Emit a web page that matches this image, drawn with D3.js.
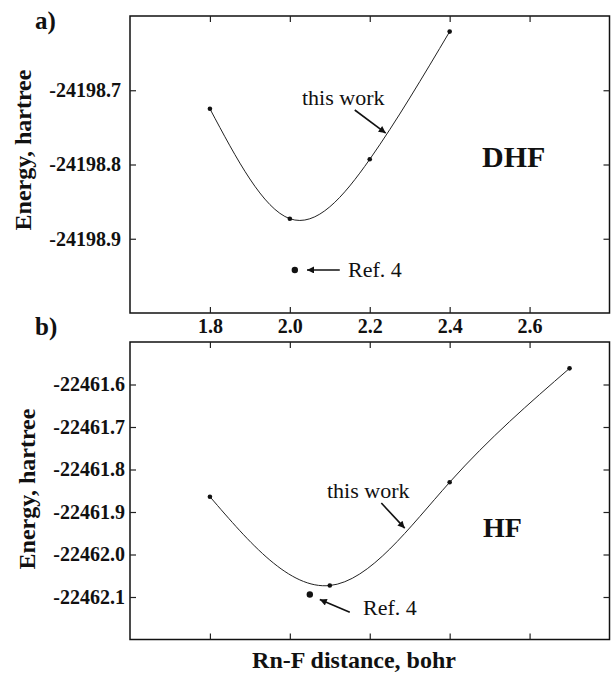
<!DOCTYPE html>
<meta charset="utf-8">
<script src="https://d3js.org/d3.v7.min.js"></script>
<style>
  body { margin: 0; background: #fff; }
  svg text { font-family: "Liberation Serif", "Times New Roman", serif; fill: #111; }
  .tick text { font-weight: bold; font-size: 20px; }
  .tick line { stroke: #222; stroke-width: 1.2; }
</style>
<body>
<div id="chart"></div>
<script>

// Rn-F distance (bohr) and total energy (hartree)
var dhfR = [1.8, 2.0, 2.2, 2.4];
var dhfE = [-24198.725, -24198.873, -24198.793, -24198.621];
var dhfRef = {r: 2.0125, e: -24198.942};

var hfR = [1.8, 2.1, 2.4, 2.7];
var hfE = [-22461.864, -22462.073, -22461.830, -22461.562];
var hfRef = {r: 2.05, e: -22462.094};

var xTicks = [1.8, 2.0, 2.2, 2.4, 2.6];
var dhfTicks = [-24198.7, -24198.8, -24198.9];
var hfTicks = [-22461.6, -22461.7, -22461.8, -22461.9, -22462.0, -22462.1];

var width = 611, height = 673;
var fmt = function(d) { return d.toFixed(1); };   // plain hyphen, point decimal

var svg = d3.select("#chart").append("svg")
    .attr("width", width)
    .attr("height", height);

svg.append("defs").append("marker")
    .attr("id", "arrow")
    .attr("viewBox", "0 0 10 10")
    .attr("refX", 10).attr("refY", 5)
    .attr("markerWidth", 9).attr("markerHeight", 7)
    .attr("markerUnits", "userSpaceOnUse")
    .attr("orient", "auto")
  .append("path")
    .attr("d", "M0,0 L10,5 L0,10 z")
    .attr("fill", "#111");

var x = d3.scaleLinear().domain([1.6, 2.8]).range([130, 609.5]);

function clean(a) {
  a.select(".domain").remove();
  a.attr("font-family", null).attr("font-size", null);
}

function panel(opt) {
  var y = d3.scaleLinear().domain(opt.domain).range(opt.range);
  var g = svg.append("g");
  var top = opt.range[1], bottom = opt.range[0];

  // frame
  g.append("rect")
    .attr("x", 130).attr("y", top)
    .attr("width", 479.5).attr("height", bottom - top)
    .attr("fill", "none").attr("stroke", "#111").attr("stroke-width", 1.5);

  // axes (ticks point inward)
  g.append("g").attr("transform", "translate(130,0)")
    .call(d3.axisLeft(y).tickValues(opt.ticks).tickSize(-6).tickPadding(opt.pad)
      .tickFormat(fmt))
    .call(clean);
  g.append("g").attr("transform", "translate(609.5,0)")
    .call(d3.axisRight(y).tickValues(opt.ticks).tickSize(-6).tickFormat(""))
    .call(clean);
  g.append("g").attr("transform", "translate(0," + top + ")")
    .call(d3.axisTop(x).tickValues(xTicks).tickSize(-6).tickFormat(""))
    .call(clean);
  g.append("g").attr("transform", "translate(0," + bottom + ")")
    .call(d3.axisBottom(x).tickValues(xTicks).tickSize(-6).tickPadding(6)
      .tickFormat(opt.xLabels ? fmt : ""))
    .call(clean);

  // fitted curve
  var pts = opt.r.map(function(r, i) { return [r, opt.e[i]]; });
  var line = d3.line()
      .x(function(d) { return x(d[0]); })
      .y(function(d) { return y(d[1]); })
      .curve(d3.curveNatural);
  g.append("path")
    .attr("d", line(pts))
    .attr("fill", "none").attr("stroke", "#222").attr("stroke-width", 1);

  g.selectAll(".pt").data(pts).enter().append("circle")
    .attr("cx", function(d) { return x(d[0]); })
    .attr("cy", function(d) { return y(d[1]); })
    .attr("r", 2.3).attr("fill", "#111");

  g.append("circle")
    .attr("cx", x(opt.ref.r)).attr("cy", y(opt.ref.e))
    .attr("r", 3.2).attr("fill", "#111");

  // annotations
  opt.arrows.forEach(function(a) {
    g.append("line")
      .attr("x1", x(a[0])).attr("y1", y(a[1]))
      .attr("x2", x(a[2])).attr("y2", y(a[3]))
      .attr("stroke", "#111").attr("stroke-width", 1.6)
      .attr("marker-end", "url(#arrow)");
  });
  opt.texts.forEach(function(t) {
    g.append("text")
      .attr("x", t.x).attr("y", t.y)
      .style("font-size", t.size + "px")
      .style("font-weight", t.bold ? "bold" : "normal")
      .text(t.s);
  });

  // y label
  g.append("text")
    .attr("transform", "translate(" + opt.labX + "," + opt.labY + ") rotate(-90)")
    .attr("text-anchor", "middle")
    .style("font-size", "24px").style("font-weight", "bold")
    .text("Energy, hartree");
}

panel({
  domain: [-24199.0, -24198.6], range: [313, 16], ticks: dhfTicks, pad: 9,
  r: dhfR, e: dhfE, ref: dhfRef, xLabels: true,
  arrows: [[2.1625, -24198.7266, 2.24, -24198.7576],
           [2.125, -24198.942, 2.043, -24198.942]],
  texts: [{x: 35, y: 29, size: 25, bold: true, s: "a)"},
          {x: 302, y: 105, size: 22, s: "this work"},
          {x: 348, y: 277, size: 22, s: "Ref. 4"},
          {x: 482, y: 167, size: 30, bold: true, s: "DHF"}],
  labX: 31, labY: 150
});

panel({
  domain: [-22462.2, -22461.5], range: [639.5, 342], ticks: hfTicks, pad: 5,
  r: hfR, e: hfE, ref: hfRef, xLabels: false,
  arrows: [[2.229, -22461.879, 2.2875, -22461.938],
           [2.15, -22462.136, 2.075, -22462.106]],
  texts: [{x: 35, y: 335, size: 25, bold: true, s: "b)"},
          {x: 327, y: 498, size: 22, s: "this work"},
          {x: 363, y: 615, size: 22, s: "Ref. 4"},
          {x: 483, y: 537, size: 28, bold: true, s: "HF"}],
  labX: 35, labY: 489
});

svg.append("text")
  .attr("x", 354).attr("y", 668)
  .attr("text-anchor", "middle")
  .style("font-size", "24px").style("font-weight", "bold")
  .text("Rn-F distance, bohr");

</script>
</body>
